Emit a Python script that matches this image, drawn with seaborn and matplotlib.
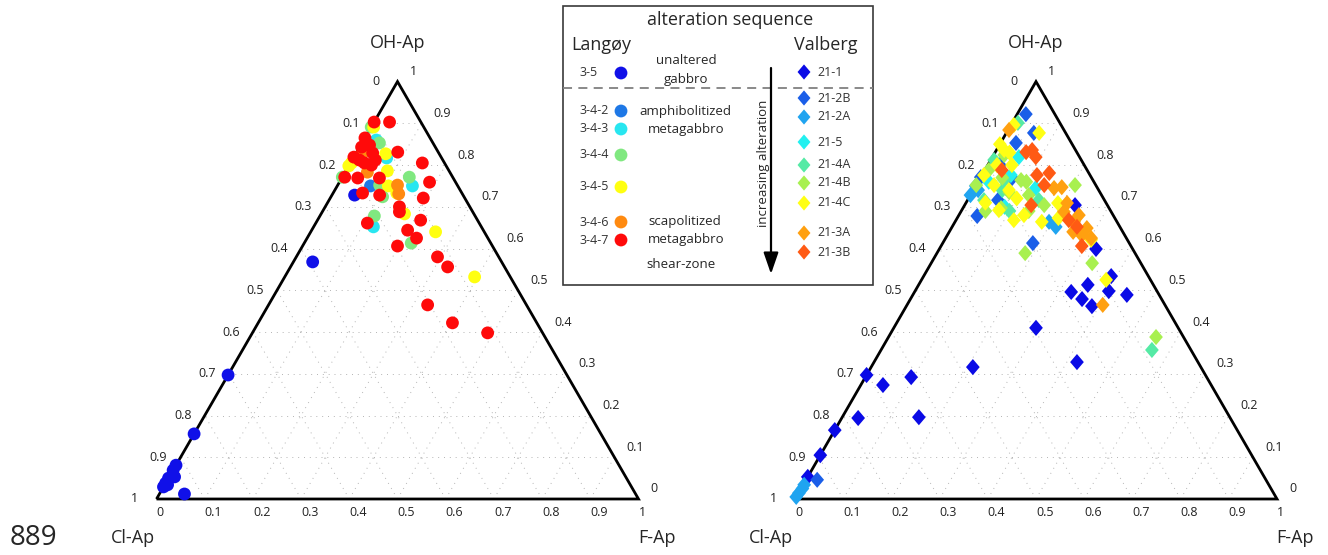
import numpy as np
import pandas as pd
import matplotlib
matplotlib.use('Agg')
import matplotlib.pyplot as plt
from matplotlib.markers import MarkerStyle
import seaborn as sns

# apatite compositions (F-Ap and OH-Ap fractions, Cl-Ap = rest)

# Langoy
langoy_samples = ['3-5', '3-4-2', '3-4-3', '3-4-4', '3-4-5', '3-4-6', '3-4-7']
langoy_colors = ['#1010e8', '#1e78e6', '#28e6f0', '#80e880', '#ffff10', '#ff8a10', '#ff0a0a']

f_35 = [0.047, 0.040, 0.0, 0.0, 0.0, 0.0, 0.011, 0.0, 0.0, 0.0, 0.006, 0.052]
oh_35 = [0.728, 0.568, 0.297, 0.156, 0.081, 0.069, 0.053, 0.050, 0.038, 0.029, 0.034, 0.012]
f_342 = [0.069]
oh_342 = [0.750]
f_343 = [0.026, 0.156, 0.124, 0.069]
oh_343 = [0.860, 0.750, 0.652, 0.817]
f_344 = [0.036, 0.139, 0.087, 0.113, 0.222, 0.107, 0.0, 0.0]
oh_344 = [0.853, 0.771, 0.752, 0.678, 0.613, 0.724, 0.891, 0.771]
f_345 = [0.005, 0.062, 0.086, 0.0, 0.106, 0.173, 0.259, 0.394, 0.132, 0.002]
oh_345 = [0.891, 0.827, 0.786, 0.798, 0.750, 0.683, 0.640, 0.532, 0.733, 0.805]
f_346 = [0.013, 0.124, 0.137, 0.046]
oh_346 = [0.829, 0.752, 0.731, 0.783]
f_347 = [0.0, 0.032, 0.0, 0.004, 0.018, 0.034, 0.085, 0.0, 0.029, 0.046,
         0.005, 0.033, 0.078, 0.149, 0.187, 0.061, 0.099, 0.193, 0.154, 0.160,
         0.214, 0.107, 0.199, 0.227, 0.197, 0.293, 0.326, 0.330, 0.403, 0.488,
         0.015, 0.048]
oh_347 = [0.903, 0.903, 0.865, 0.843, 0.848, 0.829, 0.831, 0.819, 0.805, 0.800,
          0.771, 0.769, 0.769, 0.805, 0.759, 0.733, 0.728, 0.721, 0.700, 0.688,
          0.668, 0.661, 0.644, 0.625, 0.606, 0.580, 0.556, 0.465, 0.422, 0.398,
          0.812, 0.812]

# Valberg
valberg_samples = ['21-1', '21-2B', '21-2A', '21-5', '21-4A', '21-4B', '21-4C', '21-3A', '21-3B']
valberg_colors = ['#0a0ae6', '#1a5ee8', '#20a4f0', '#22f0f0', '#55eaa5', '#a8f050',
                  '#ffff14', '#ffa010', '#ff5a14']

f_211 = [0.0, 0.046, 0.095, 0.211, 0.034, 0.159, 0.0, 0.0, 0.0, 0.229,
         0.325, 0.389, 0.351, 0.325, 0.402, 0.356, 0.385, 0.444, 0.295, 0.421]
oh_211 = [0.297, 0.273, 0.292, 0.316, 0.194, 0.196, 0.165, 0.105, 0.053, 0.704,
          0.599, 0.534, 0.513, 0.496, 0.498, 0.479, 0.462, 0.489, 0.410, 0.328]
f_212b = [0.018, 0.032, 0.039, 0.187, 0.0, 0.063, 0.057, 0.023, 0.025, 0.066]
oh_212b = [0.922, 0.853, 0.678, 0.613, 0.771, 0.716, 0.877, 0.046, 0.800, 0.769]
f_212a = [0.002, 0.001, 0.0, 0.003, 0.0, 0.195, 0.215, 0.0, 0.010]
oh_212a = [0.034, 0.014, 0.005, 0.025, 0.728, 0.664, 0.652, 0.750, 0.740]
f_215 = [0.127, 0.055, 0.060, 0.022, 0.085]
oh_215 = [0.745, 0.819, 0.776, 0.760, 0.700]
f_214a = [0.562, 0.012, 0.052, 0.007, 0.148, 0.034, 0.060, 0.100]
oh_214a = [0.357, 0.901, 0.764, 0.812, 0.716, 0.716, 0.740, 0.690]
f_214b = [0.205, 0.334, 0.555, 0.183, 0.079, 0.0, 0.121, 0.165, 0.008, 0.077, 0.022, 0.087,
          0.045, 0.100, 0.050, 0.140]
oh_214b = [0.752, 0.565, 0.388, 0.589, 0.697, 0.752, 0.728, 0.704, 0.788, 0.735, 0.824, 0.764,
           0.770, 0.760, 0.690, 0.690]
f_214c = [0.383, 0.304, 0.191, 0.210, 0.006, 0.068, 0.0, 0.016, 0.019, 0.037,
          0.074, 0.077, 0.004, 0.135, 0.120, 0.180, 0.030, 0.050, 0.040, 0.100]
oh_214c = [0.525, 0.621, 0.709, 0.673, 0.896, 0.877, 0.850, 0.836, 0.800, 0.752,
           0.740, 0.692, 0.776, 0.680, 0.668, 0.664, 0.830, 0.800, 0.710, 0.720]
f_213a = [0.406, 0.210, 0.249, 0.257, 0.279, 0.214, 0.165, 0.180, 0.002, 0.302, 0.247, 0.281]
oh_213a = [0.465, 0.709, 0.680, 0.640, 0.632, 0.688, 0.745, 0.747, 0.884, 0.625, 0.664, 0.649]
f_213b = [0.292, 0.259, 0.234, 0.141, 0.137, 0.114, 0.138, 0.074, 0.090, 0.035, 0.064]
oh_213b = [0.606, 0.652, 0.668, 0.752, 0.781, 0.776, 0.704, 0.836, 0.819, 0.788, 0.831]

langoy_f = [f_35, f_342, f_343, f_344, f_345, f_346, f_347]
langoy_oh = [oh_35, oh_342, oh_343, oh_344, oh_345, oh_346, oh_347]
valberg_f = [f_211, f_212b, f_212a, f_215, f_214a, f_214b, f_214c, f_213a, f_213b]
valberg_oh = [oh_211, oh_212b, oh_212a, oh_215, oh_214a, oh_214b, oh_214c, oh_213a, oh_213b]

W, H = 1328, 555     # figure size in pixels
BASE = 499           # pixel row of the triangle base
S = 482.0            # pixels per unit side
H3 = np.sqrt(3) / 2


def tern_df(samples, f_lists, oh_lists):
    rows = []
    for name, fs, ohs in zip(samples, f_lists, oh_lists):
        for f, oh in zip(fs, ohs):
            rows.append((name, f, oh))
    df = pd.DataFrame(rows, columns=['sample', 'F', 'OH'])
    df['x'] = df['F'] + df['OH'] / 2
    df['y'] = df['OH'] * H3
    return df


def tern_axes(fig, x0):
    ax = fig.add_axes([0, 0, 1, 1])
    ax.set_xlim(-x0 / S, (W - x0) / S)
    ax.set_ylim(-(H - BASE) / S, BASE / S)
    ax.axis('off')
    ax.patch.set_alpha(0)
    # dotted grid
    for i in range(1, 10):
        t = i / 10
        kw = dict(color='#b4b4b4', lw=0.7, ls=(0, (1, 5)), zorder=1)
        ax.plot([t / 2, 1 - t / 2], [t * H3, t * H3], **kw)
        ax.plot([t, t + (1 - t) / 2], [0, (1 - t) * H3], **kw)
        ax.plot([1 - t, (1 - t) / 2], [0, (1 - t) * H3], **kw)
    ax.plot([0, 1, 0.5, 0], [0, 0, H3, 0], color='black', lw=2, zorder=2,
            solid_joinstyle='miter', solid_capstyle='butt')
    for i in range(11):
        v = i / 10
        lab = '0' if i == 0 else ('1' if i == 10 else f'{v:.1f}')
        ax.text(v, -14 / S, lab, ha='left', va='center', fontsize=9, color='#222222')
        ax.text((1 - v) / 2 - 22 / S, (1 - v) * H3, lab, ha='center', va='center',
                fontsize=9, color='#222222')
        ax.text(1 - v / 2 + 12 / S, v * H3 + 10 / S, lab, ha='left', va='center',
                fontsize=9, color='#222222')
    ax.text(0.5, H3 + 39 / S, 'OH-Ap', ha='center', va='center', fontsize=13)
    ax.text(-24 / S, -39 / S, 'Cl-Ap', ha='center', va='center', fontsize=13)
    ax.text(1 + 18 / S, -39 / S, 'F-Ap', ha='center', va='center', fontsize=13)
    return ax


sns.set_style('white')
plt.rcParams['font.family'] = ['Open Sans', 'DejaVu Sans']

diamond = MarkerStyle([(0, 1), (0.85, 0), (0, -1), (-0.85, 0), (0, 1)])

fig = plt.figure(figsize=(W / 100, H / 100), dpi=100)

ax1 = tern_axes(fig, 156.5)
df1 = tern_df(langoy_samples, langoy_f, langoy_oh)
sns.scatterplot(data=df1, x='x', y='y', hue='sample', hue_order=langoy_samples,
                palette=dict(zip(langoy_samples, langoy_colors)), s=85,
                marker='o', edgecolor='none', linewidth=0, legend=False, ax=ax1, zorder=3)

ax2 = tern_axes(fig, 795)
df2 = tern_df(valberg_samples, valberg_f, valberg_oh)
sns.scatterplot(data=df2, x='x', y='y', hue='sample', hue_order=valberg_samples,
                palette=dict(zip(valberg_samples, valberg_colors)), s=135,
                marker=diamond, edgecolor='none', linewidth=0, legend=False, ax=ax2, zorder=3)

# legend box drawn in pixel coordinates
lg = fig.add_axes([0, 0, 1, 1])
lg.set_xlim(0, W)
lg.set_ylim(H, 0)
lg.axis('off')
lg.patch.set_alpha(0)

lg.add_patch(plt.Rectangle((563, 6), 310, 279, fill=True, facecolor='white',
                           edgecolor='#3a3a3a', lw=1.2, zorder=1))
lg.text(730, 20, 'alteration sequence', ha='center', va='center', fontsize=13)
lg.text(601, 45, 'Langøy', ha='center', va='center', fontsize=13)
lg.text(826, 45, 'Valberg', ha='center', va='center', fontsize=13)
lg.plot([563, 873], [88, 88], color='#808080', lw=1.3, ls=(0, (5, 3.5)), zorder=2)

circle_y = [73, 111, 129, 155, 187, 222, 240]
lg.scatter([621] * len(circle_y), circle_y, s=85, c=langoy_colors, edgecolors='none', zorder=3)
for name, yy in zip(langoy_samples, circle_y):
    lg.text(579, yy, name, ha='left', va='center', fontsize=9, color='#333333')

group_text = [('unaltered', 686, 61), ('gabbro', 686, 79), ('amphibolitized', 685, 111),
              ('metagabbro', 686, 129), ('scapolitized', 685, 222),
              ('metagabbro', 686, 240), ('shear-zone', 681, 264)]
for txt, xx, yy in group_text:
    lg.text(xx, yy, txt, ha='center', va='center', fontsize=9.5)

diamond_y = [72, 98, 117, 142, 165, 183, 203, 233, 252]
lg.scatter([804] * len(diamond_y), diamond_y, s=120, c=valberg_colors, marker=diamond,
           edgecolors='none', zorder=3)
for name, yy in zip(valberg_samples, diamond_y):
    lg.text(817, yy, name, ha='left', va='center', fontsize=9, color='#333333')

lg.annotate('', xy=(771, 274), xytext=(771, 68),
            arrowprops=dict(arrowstyle='-|>,head_length=1.3,head_width=0.45',
                            color='black', lw=1.6, shrinkA=0, shrinkB=0), zorder=3)
lg.text(763, 163, 'increasing alteration', rotation=90, ha='center', va='center',
        fontsize=9.5)

lg.text(33, 538, '889', ha='center', va='center', fontsize=20)

fig.savefig('out.png', dpi=100)
plt.close(fig)
